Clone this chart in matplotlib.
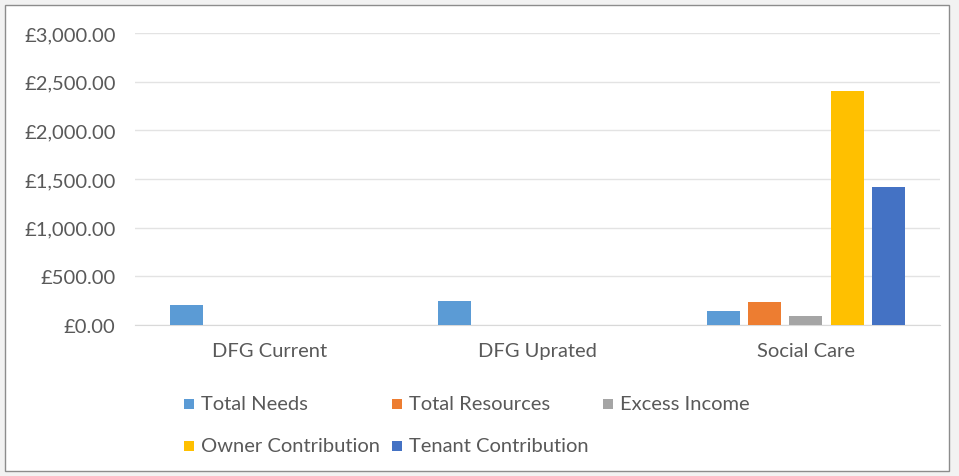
import matplotlib
matplotlib.use("Agg")
import matplotlib.pyplot as plt
from matplotlib.patches import Rectangle
from matplotlib.ticker import FuncFormatter
import numpy as np

categories = ["DFG Current", "DFG Uprated", "Social Care"]
series_names = ["Total Needs", "Total Resources", "Excess Income",
                "Owner Contribution", "Tenant Contribution"]
total_needs = [210, 250, 145]
total_resources = [0, 0, 235]
excess_income = [0, 0, 90]
owner_contribution = [0, 0, 2400]
tenant_contribution = [0, 0, 1420]
y_ticks = [0, 500, 1000, 1500, 2000, 2500, 3000]

colors = ["#5B9BD5", "#ED7D31", "#A5A5A5", "#FFC000", "#4472C4"]
text_color = "#595959"

plt.rcParams["font.family"] = ["Lato", "DejaVu Sans"]

W, H = 959, 477
fig = plt.figure(figsize=(W / 100, H / 100), dpi=100)
fig.patch.set_facecolor("#f2f2f2")

# chart frame
frame = Rectangle((5 / W, 5 / H), 944 / W, 466 / H, transform=fig.transFigure,
                  facecolor="white", edgecolor="#8c8c8c", linewidth=1.0, zorder=-5)
fig.patches.append(frame)

ax = fig.add_axes([135 / W, 1 - 326 / H, 805 / W, 292 / H])
ax.set_facecolor("none")

values = [total_needs, total_resources, excess_income,
          owner_contribution, tenant_contribution]
x = np.arange(len(categories))
pitch = 0.154
width = 0.123
for i, (vals, c) in enumerate(zip(values, colors)):
    ax.bar(x + (i - 2) * pitch, vals, width=width, color=c, zorder=3)

ax.set_xlim(-0.5, 2.5)
ax.set_ylim(0, 3000)
ax.set_yticks(y_ticks)
ax.yaxis.set_major_formatter(FuncFormatter(lambda v, p: f"£{v:,.2f}"))
ax.grid(axis="y", color="#e3e3e3", linewidth=1.0, zorder=0)
ax.set_xticks(x)
ax.set_xticklabels(categories)
for s in ["top", "right", "left"]:
    ax.spines[s].set_visible(False)
ax.spines["bottom"].set_color("#d9d9d9")
ax.tick_params(axis="both", length=0, colors=text_color, labelsize=14.5)
ax.tick_params(axis="y", pad=14)
ax.tick_params(axis="x", pad=12)

# legend, laid out in two rows
legend_items = [
    (0, 189, 405), (1, 397, 405), (2, 608, 405),
    (3, 189, 447), (4, 397, 447),
]
sq = 10
for idx, px, py in legend_items:
    fig.patches.append(Rectangle(((px - sq / 2) / W, 1 - (py + sq / 2) / H),
                                 sq / W, sq / H, transform=fig.transFigure,
                                 facecolor=colors[idx], edgecolor="none"))
    fig.text((px + 12) / W, 1 - py / H, series_names[idx], fontsize=14.5,
             color=text_color, va="center", ha="left")

fig.savefig("out.png", dpi=100, facecolor=fig.get_facecolor())
